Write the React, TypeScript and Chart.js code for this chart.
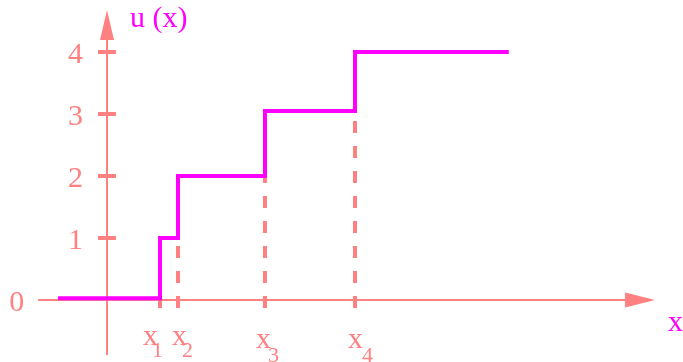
import { useEffect, useRef } from "react";
import { Chart, registerables } from "chart.js";

Chart.register(...registerables);

// Step function u(x): at each x in stepX the value jumps to the matching stepU
const stepX = [-0.79, 0.855, 1.145, 2.548, 4.0, 6.48];
const stepU = [0.03, 1, 2, 3.05, 4, 4];

// Jump points x1..x4 and their subscripts
const jumpX = [0.855, 1.145, 2.548, 4.0];
const jumpLevelBefore = [0.03, 1, 2, 3.05];
const jumpSubscripts = ["1", "2", "3", "4"];

// Vertical axis ticks
const yTickValues = [0, 1, 2, 3, 4];
const yTickLabels = ["0", "1", "2", "3", "4"];

const AXIS = "#ff8080";
const CURVE = "#ff00ff";
const SERIF = '"Liberation Serif", "DejaVu Serif", serif';

const axesPlugin = {
  id: "mathAxes",
  beforeDatasetsDraw(chart: Chart) {
    const { ctx } = chart;
    const xs = chart.scales.x;
    const ys = chart.scales.y;
    const px = (v: number) => xs.getPixelForValue(v);
    const py = (v: number) => ys.getPixelForValue(v);
    const x0 = px(0);
    const y0 = py(0);

    ctx.save();
    ctx.strokeStyle = AXIS;
    ctx.fillStyle = AXIS;

    // horizontal axis with arrow
    ctx.lineWidth = 2;
    ctx.beginPath();
    ctx.moveTo(px(-1.11), y0);
    ctx.lineTo(px(8.4), y0);
    ctx.stroke();
    ctx.beginPath();
    ctx.moveTo(px(8.84), y0);
    ctx.lineTo(px(8.84) - 30, y0 - 7.5);
    ctx.lineTo(px(8.84) - 30, y0 + 7.5);
    ctx.closePath();
    ctx.fill();

    // vertical axis with arrow
    ctx.beginPath();
    ctx.moveTo(x0, py(-0.887));
    ctx.lineTo(x0, py(4.4));
    ctx.stroke();
    ctx.beginPath();
    ctx.moveTo(x0, py(4.677));
    ctx.lineTo(x0 - 7, py(4.677) + 30);
    ctx.lineTo(x0 + 7, py(4.677) + 30);
    ctx.closePath();
    ctx.fill();

    // tick marks and labels on the vertical axis
    ctx.lineWidth = 4;
    ctx.font = `30px ${SERIF}`;
    ctx.textAlign = "right";
    ctx.textBaseline = "alphabetic";
    yTickValues.forEach((v, i) => {
      const y = py(v);
      if (v !== 0) {
        ctx.beginPath();
        ctx.moveTo(x0 - 9, y);
        ctx.lineTo(x0 + 9, y);
        ctx.stroke();
        ctx.fillText(yTickLabels[i], x0 - 24, y + 11);
      } else {
        ctx.fillText(yTickLabels[i], px(-1.11) - 14, y + 11);
      }
    });

    // dashed guides from the axis up to each jump
    ctx.lineWidth = 4;
    ctx.setLineDash([12, 13]);
    jumpX.forEach((xv, i) => {
      const x = px(xv);
      ctx.beginPath();
      ctx.moveTo(x, y0 + 8);
      ctx.lineTo(x, py(jumpLevelBefore[i]));
      ctx.stroke();
    });
    ctx.setLineDash([]);

    // x1..x4 labels below the axis
    const shift = [-17, -6, -9, -7];
    const base = [345, 345, 348, 348];
    const subShift = [9, 10, 12, 14];
    const subBase = [357, 357, 362, 362];
    jumpX.forEach((xv, i) => {
      const left = px(xv) + shift[i];
      ctx.textAlign = "left";
      ctx.font = `30px ${SERIF}`;
      ctx.fillText("x", left, base[i]);
      ctx.font = `22px ${SERIF}`;
      ctx.fillText(jumpSubscripts[i], left + subShift[i], subBase[i]);
    });

    // axis titles
    ctx.fillStyle = CURVE;
    ctx.font = `30px ${SERIF}`;
    ctx.textAlign = "left";
    ctx.fillText("u (x)", 130, 27);
    ctx.fillText("x", 668, 331);
    ctx.restore();
  },
};

export default function App() {
  const canvasRef = useRef<HTMLCanvasElement | null>(null);

  useEffect(() => {
    const canvas = canvasRef.current;
    if (!canvas) return;
    const chart = new Chart(canvas, {
      type: "line",
      data: {
        datasets: [
          {
            data: stepX.map((x, i) => ({ x, y: stepU[i] })),
            stepped: "before",
            borderColor: CURVE,
            borderWidth: 4,
            borderCapStyle: "butt",
            borderJoinStyle: "miter",
            pointRadius: 0,
            fill: false,
          },
        ],
      },
      options: {
        animation: false,
        responsive: false,
        events: [],
        layout: { padding: 0, autoPadding: false },
        plugins: {
          legend: { display: false },
          tooltip: { enabled: false },
        },
        scales: {
          x: { type: "linear", min: -107 / 62, max: 576 / 62, display: false },
          y: { type: "linear", min: -1, max: 300 / 62, display: false },
        },
      },
      plugins: [axesPlugin],
    });
    return () => chart.destroy();
  }, []);

  return (
    <div style={{ position: "fixed", left: 0, top: 0, width: 683, height: 362, background: "#ffffff" }}>
      <canvas ref={canvasRef} width={683} height={362} style={{ display: "block" }} />
    </div>
  );
}
